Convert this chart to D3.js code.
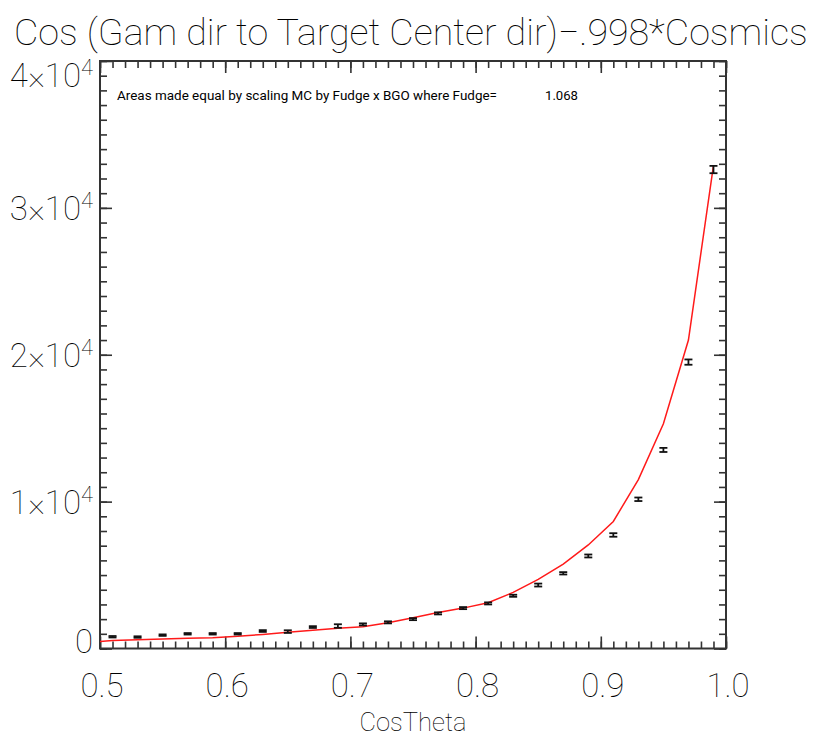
<!DOCTYPE html>
<html><head><meta charset="utf-8">
<script src="https://cdn.jsdelivr.net/npm/d3@7"></script>
<style>
html,body{margin:0;padding:0;background:#fff;}
svg{display:block;}
text{font-family:Roboto,"DejaVu Sans",sans-serif;fill:#000;}
</style></head><body>
<svg id="c" width="814" height="737"></svg>
<script>
// ---- data ----
const titleText = "Cos (Gam dir to Target Center dir)\u2212.998*Cosmics";
const xAxisTitle = "CosTheta";
const noteText = "Areas made equal by scaling MC by Fudge x BGO where Fudge=";
const fudgeText = "1.068";
const xTickValues = [0.5, 0.6, 0.7, 0.8, 0.9, 1.0];
const xTickLabels = ["0.5", "0.6", "0.7", "0.8", "0.9", "1.0"];
const yTickValues = [0, 10000, 20000, 30000, 40000];
const yTickMant = ["0", "1", "2", "3", "4"];
// data points (bin centres), values and errors
const binX = [0.51,0.53,0.55,0.57,0.59,0.61,0.63,0.65,0.67,0.69,0.71,0.73,0.75,0.77,0.79,0.81,0.83,0.85,0.87,0.89,0.91,0.93,0.95,0.97,0.99];
const dataY = [800,780,910,1000,1000,1000,1190,1150,1460,1530,1640,1780,2000,2390,2750,3070,3590,4320,5120,6300,7730,10160,13520,19500,32610];
const dataErr = [50,50,50,50,50,50,60,90,60,120,70,70,70,70,70,70,70,100,80,100,120,120,140,180,250];
// MC curve
const mcX = [0.49,0.51,0.53,0.55,0.57,0.59,0.61,0.63,0.65,0.67,0.69,0.71,0.73,0.75,0.77,0.79,0.81,0.83,0.85,0.87,0.89,0.91,0.93,0.95,0.97,0.99];
const mcY = [420,540,590,640,690,740,830,960,1100,1240,1380,1480,1750,2100,2450,2750,3120,3820,4700,5750,7050,8650,11500,15300,21000,32900];

// ---- layout ----
const L = 100, R = 726, T = 61, B = 648.5;
const x = d3.scaleLinear().domain([0.5, 1.0]).range([L, R]);
const y = d3.scaleLinear().domain([0, 40000]).range([B, T]);
const svg = d3.select("#c");
const axisCol = "#333";

svg.append("clipPath").attr("id","clip").append("rect")
  .attr("x", L).attr("y", T).attr("width", R - L).attr("height", B - T);

function styleAxis(g){ g.select(".domain").remove(); g.selectAll("line").attr("stroke", axisCol).attr("stroke-width", 1.6); g.selectAll("text").remove(); }
const xMinor = x.ticks(50), yMinor = y.ticks(40);
svg.append("g").attr("transform", `translate(0,${B})`).call(d3.axisBottom(x).tickValues(xMinor).tickSize(-7)).call(styleAxis);
svg.append("g").attr("transform", `translate(0,${B})`).call(d3.axisBottom(x).tickValues(xTickValues).tickSize(-12)).call(styleAxis);
svg.append("g").attr("transform", `translate(0,${T})`).call(d3.axisTop(x).tickValues(xMinor).tickSize(-7)).call(styleAxis);
svg.append("g").attr("transform", `translate(0,${T})`).call(d3.axisTop(x).tickValues(xTickValues).tickSize(-12)).call(styleAxis);
svg.append("g").attr("transform", `translate(${L},0)`).call(d3.axisLeft(y).tickValues(yMinor).tickSize(-7)).call(styleAxis);
svg.append("g").attr("transform", `translate(${L},0)`).call(d3.axisLeft(y).tickValues(yTickValues).tickSize(-12)).call(styleAxis);
svg.append("g").attr("transform", `translate(${R},0)`).call(d3.axisRight(y).tickValues(yMinor).tickSize(-7)).call(styleAxis);
svg.append("g").attr("transform", `translate(${R},0)`).call(d3.axisRight(y).tickValues(yTickValues).tickSize(-12)).call(styleAxis);

svg.append("rect").attr("x", L).attr("y", T).attr("width", R - L).attr("height", B - T)
  .attr("fill", "none").attr("stroke", axisCol).attr("stroke-width", 2);

const line = d3.line().x((d,i) => x(mcX[i])).y(d => y(d));
svg.append("path").datum(mcY).attr("clip-path","url(#clip)")
  .attr("d", line).attr("fill","none").attr("stroke","#ff1a1a").attr("stroke-width",1.5);

const eb = svg.append("g").attr("stroke", "#111").attr("stroke-width", 1.8);
binX.forEach((bx, i) => {
  const cx = x(bx), y1 = y(dataY[i] + dataErr[i]), y0 = y(dataY[i] - dataErr[i]);
  eb.append("line").attr("x1", cx).attr("x2", cx).attr("y1", y0).attr("y2", y1);
  eb.append("line").attr("x1", cx - 4).attr("x2", cx + 4).attr("y1", y0).attr("y2", y0);
  eb.append("line").attr("x1", cx - 4).attr("x2", cx + 4).attr("y1", y1).attr("y2", y1);
});

// fit a text to a target width by adjusting font size
function fitText(sel, base, width) {
  sel.style("font-size", base + "px");
  const w = sel.node().getComputedTextLength();
  sel.style("font-size", (base * width / w).toFixed(2) + "px");
}

// title
const title = svg.append("text").attr("x", 14).attr("y", 45).style("font-weight", 100).text(titleText);
fitText(title, 40, 794);

// note
svg.append("text").attr("x", 117).attr("y", 100).style("font-size", "12.5px").style("font-weight", 400)
  .attr("textLength", 380).attr("lengthAdjust", "spacingAndGlyphs").text(noteText);
svg.append("text").attr("x", 545).attr("y", 100).style("font-size", "12.5px").style("font-weight", 400)
  .attr("textLength", 33).attr("lengthAdjust", "spacingAndGlyphs").text(fudgeText);

// x tick labels
svg.append("g").selectAll("text").data(xTickValues).join("text")
  .attr("x", d => x(d) + 2).attr("y", 697).style("font-size", "33px").style("font-weight", 100)
  .attr("text-anchor", "middle")
  .text((d, i) => xTickLabels[i]);

// x axis title
const xt = svg.append("text").attr("x", 413).attr("y", 731).attr("text-anchor", "middle")
  .style("font-weight", 100).text(xAxisTitle);
fitText(xt, 32, 107);

// y tick labels
const yl = svg.append("g");
yTickValues.forEach((v, i) => {
  let cy = y(v);
  if (i === yTickValues.length - 1) cy += 14;
  if (i === 0) cy -= 8;
  const t = yl.append("text").attr("x", 93).attr("y", cy + 12).style("font-size", "33px")
    .style("font-weight", 100).attr("text-anchor", "end");
  if (v === 0) { t.text(yTickMant[i]); }
  else {
    t.append("tspan").text(yTickMant[i] + "\u00d710");
    t.append("tspan").style("font-size", "22px").attr("dy", -12).text("4");
  }
});
</script></body></html>
